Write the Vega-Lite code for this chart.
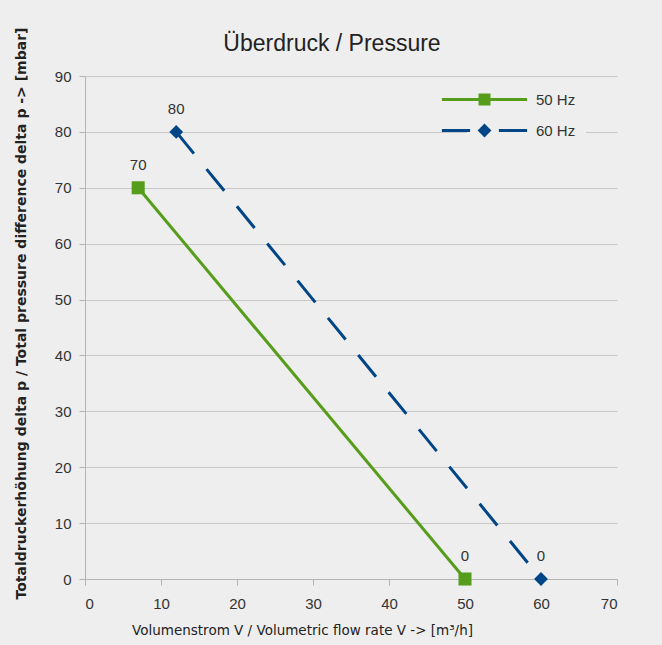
{
  "$schema": "https://vega.github.io/schema/vega-lite/v6.json",
  "autosize": {"type": "none"},
  "width": 532,
  "height": 503,
  "padding": {"left": 85, "top": 76, "right": 45, "bottom": 66},
  "background": "#eeeeee",
  "title": {
    "text": "Überdruck / Pressure",
    "fontSize": 23,
    "fontWeight": "normal",
    "font": "Liberation Sans",
    "color": "#222222",
    "anchor": "middle",
    "frame": "group",
    "dx": -19,
    "dy": 43,
    "offset": 14
  },
  "data": {
    "values": [
      {"V": 7, "p": 70, "s": "50 Hz"},
      {"V": 50, "p": 0, "s": "50 Hz"},
      {"V": 12, "p": 80, "s": "60 Hz"},
      {"V": 60, "p": 0, "s": "60 Hz"}
    ]
  },
  "encoding": {
    "x": {
      "field": "V",
      "type": "quantitative",
      "scale": {"domain": [0, 70], "nice": false, "zero": true},
      "axis": {
        "title": "Volumenstrom V / Volumetric flow rate V -> [m³/h]",
        "values": [0, 10, 20, 30, 40, 50, 60, 70],
        "grid": false,
        "titleX": 217,
        "titleFont": "DejaVu Sans",
        "titleFontWeight": "normal",
        "titleFontSize": 13.5,
        "titlePadding": 12,
        "labelPadding": 11
      }
    },
    "y": {
      "field": "p",
      "type": "quantitative",
      "scale": {"domain": [0, 90], "nice": false},
      "axis": {
        "title": "Totaldruckerhöhung delta p / Total pressure difference delta p -> [mbar]",
        "values": [0, 10, 20, 30, 40, 50, 60, 70, 80, 90],
        "grid": true,
        "titleFont": "DejaVu Sans",
        "titleFontWeight": "bold",
        "titleFontSize": 14,
        "titleX": -64,
        "titleY": 237,
        "titleBaseline": "middle",
        "labelPadding": 8
      }
    }
  },
  "layer": [
    {
      "transform": [{"filter": "datum.s == '50 Hz'"}],
      "mark": {"type": "line", "strokeWidth": 3, "color": "#579d1c"},
      "encoding": {}
    },
    {
      "transform": [{"filter": "datum.s == '60 Hz'"}],
      "mark": {"type": "line", "strokeWidth": 3, "color": "#004586", "strokeDash": [28, 20]},
      "encoding": {}
    },
    {
      "transform": [{"filter": "datum.s == '50 Hz'"}],
      "mark": {"type": "point", "shape": "square", "filled": true, "size": 170, "opacity": 1, "color": "#579d1c"}
    },
    {
      "transform": [{"filter": "datum.s == '60 Hz'"}],
      "mark": {"type": "point", "shape": "diamond", "filled": true, "size": 190, "opacity": 1, "color": "#004586"}
    },
    {
      "mark": {"type": "text", "dy": -23, "fontSize": 15, "font": "Liberation Sans", "color": "#333333"},
      "encoding": {
        "text": {"field": "p", "type": "quantitative"}
      }
    },
    {
      "transform": [{"filter": "false"}],
      "mark": {"type": "point", "filled": true, "size": 144, "opacity": 1, "strokeWidth": 0},
      "encoding": {
        "color": {
          "field": "s",
          "type": "nominal",
          "scale": {"domain": ["50 Hz", "60 Hz"], "range": ["#579d1c", "#004586"]},
          "legend": {
            "title": null,
            "orient": "none",
            "legendX": 382,
            "legendY": 6,
            "padding": 10,
            "fillColor": "#eeeeee",
            "symbolSize": 144,
            "symbolStrokeWidth": 0,
            "symbolOpacity": 1,
            "labelFontSize": 15,
            "labelFont": "Liberation Sans",
            "labelColor": "#333333",
            "labelOffset": 44,
            "rowPadding": 15
          }
        },
        "shape": {
          "field": "s",
          "type": "nominal",
          "scale": {
            "domain": ["50 Hz", "60 Hz"],
            "range": [
              "M-7.1,-0.25H7.1V0.25H-7.1Z M-1,-1H1V1H-1Z",
              "M-7.1,-0.25H-2.4V0.25H-7.1Z M2.4,-0.25H7.1V0.25H2.4Z M0,-1.15L1.15,0L0,1.15L-1.15,0Z"
            ]
          },
          "legend": {
            "title": null,
            "orient": "none",
            "legendX": 382,
            "legendY": 6,
            "padding": 10,
            "fillColor": "#eeeeee",
            "symbolSize": 144,
            "symbolStrokeWidth": 0,
            "symbolOpacity": 1,
            "labelFontSize": 15,
            "labelFont": "Liberation Sans",
            "labelColor": "#333333",
            "labelOffset": 44,
            "rowPadding": 15
          }
        }
      }
    }
  ],
  "config": {
    "font": "Liberation Sans",
    "view": {"stroke": null},
    "legend": {"disable": false},
    "axis": {
      "labelFontSize": 15,
      "labelColor": "#333333",
      "labelFont": "Liberation Sans",
      "titleColor": "#222222",
      "titleFont": "Liberation Sans",
      "domainColor": "#b3b3b3",
      "tickColor": "#b3b3b3",
      "tickSize": 6,
      "gridColor": "#c8c8c8",
      "gridWidth": 1
    }
  }
}
